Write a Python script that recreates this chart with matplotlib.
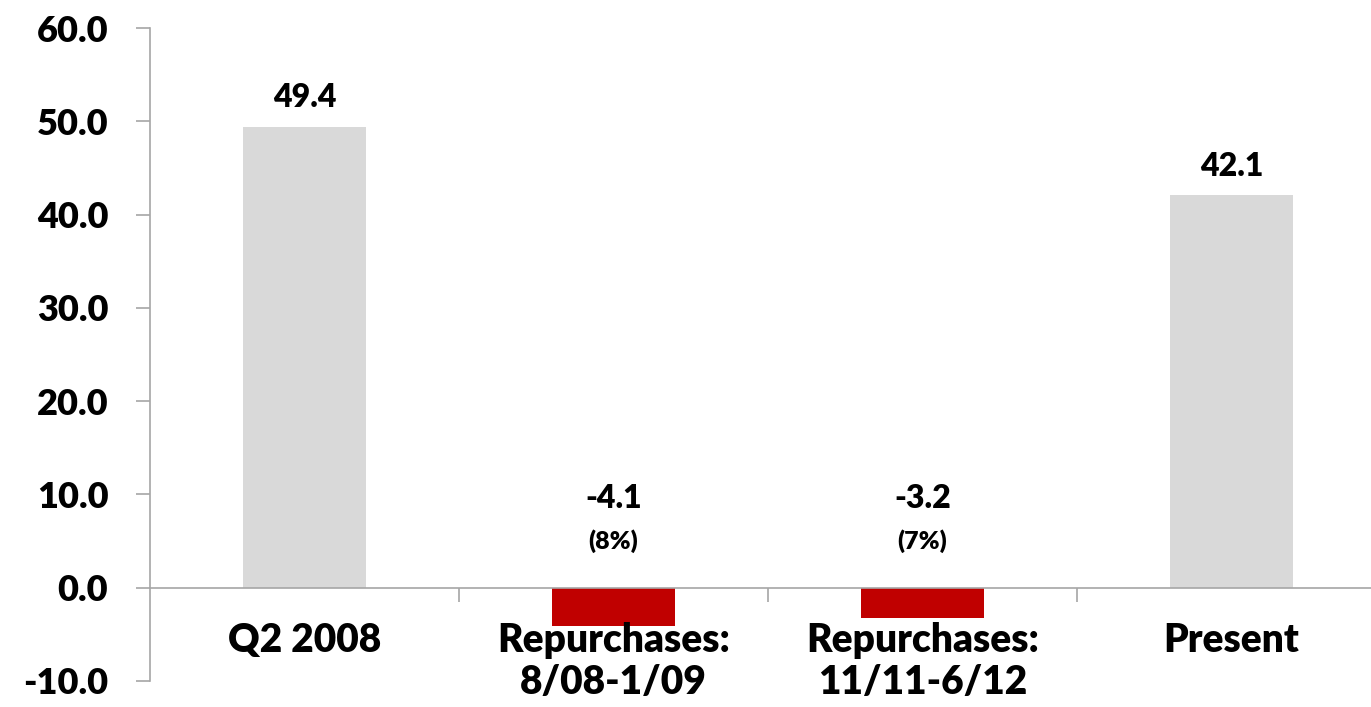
import numpy as np
import matplotlib.pyplot as plt
from matplotlib.ticker import FormatStrFormatter

plt.rcParams['font.family'] = ['Lato', 'DejaVu Sans']
plt.rcParams['font.weight'] = 'heavy'

categories = ["Q2 2008", "Repurchases:\n8/08-1/09", "Repurchases:\n11/11-6/12", "Present"]
values = [49.4, -4.1, -3.2, 42.1]
pct_labels = [None, "(8%)", "(7%)", None]
colors = ["#D9D9D9", "#C00000", "#C00000", "#D9D9D9"]

fig = plt.figure(figsize=(13.71, 7.07), dpi=100)
ax = fig.add_axes([150/1371, 1-681/707, 1236/1371, 653/707])

x = np.arange(len(categories))
ax.bar(x, values, width=0.4, color=colors)

for i, v in enumerate(values):
    if v >= 0:
        ax.text(i, v + 3.1, "%.1f" % v, ha='center', va='center', fontsize=23, fontweight='heavy')
    else:
        ax.text(i, 9.6, "%.1f" % v, ha='center', va='center', fontsize=23, fontweight='heavy')
        ax.text(i, 5.0, pct_labels[i], ha='center', va='center', fontsize=18, fontweight='heavy')

ax.set_xlim(-0.5, 3.5)
ax.set_ylim(-10, 60)
ax.set_yticks(np.arange(-10, 61, 10))
ax.yaxis.set_major_formatter(FormatStrFormatter('%.1f'))

spine_col = "#A6A6A6"
for s in ['top', 'right']:
    ax.spines[s].set_visible(False)
ax.spines['left'].set_color(spine_col)
ax.spines['left'].set_linewidth(1.2)
ax.spines['bottom'].set_color(spine_col)
ax.spines['bottom'].set_linewidth(1.2)
ax.spines['bottom'].set_position(('data', 0))

ax.tick_params(axis='y', length=10, width=1.2, color=spine_col, pad=20, labelsize=26)
ax.set_xticks([0.5, 1.5, 2.5])
ax.set_xticklabels([])
ax.tick_params(axis='x', which='major', length=10, width=1.2, color=spine_col, direction='out')
ax.set_xticks(x, minor=True)
ax.set_xticklabels(categories, minor=True, fontsize=28, fontweight='heavy', linespacing=1.15)
ax.tick_params(axis='x', which='minor', length=0, pad=25)
for lab in ax.get_yticklabels():
    lab.set_fontweight('heavy')

fig.savefig("out.png", dpi=100)
